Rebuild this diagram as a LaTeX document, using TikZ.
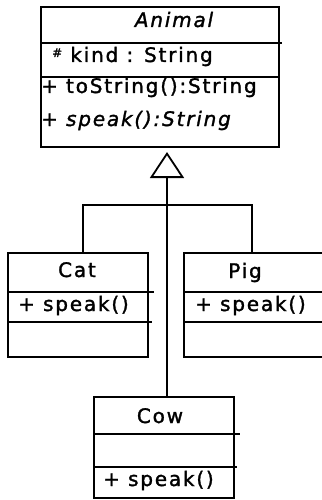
\documentclass[tikz,border=0pt]{standalone}
\usepackage{fontspec}
\setmainfont{DejaVu Sans}[LetterSpace=9, FakeBold=1.5]
\usetikzlibrary{positioning,arrows.meta}

\begin{document}
\begin{tikzpicture}[x=1pt, y=-1pt,
  part/.style={draw, line width=1.8pt, inner sep=0pt, outer sep=0pt,
               anchor=north west, minimum width=#1},
  part/.default=140pt,
  title/.style={font=\fontsize{20}{24}\selectfont, inner sep=0pt, anchor=base},
  member/.style={font=\fontsize{20}{24}\selectfont, inner sep=0pt, anchor=base west},
  link/.style={line width=1.8pt},
  inherit/.style={-{Triangle[open, length=26pt, width=34pt, line width=1.8pt]},
                  line width=1.8pt, shorten >=5pt}
]
\useasboundingbox (0,0) rectangle (321,500);
% Animal
\node[part=238pt, minimum height=36pt] (AnName) at (41,7) {};
\node[part=238pt, minimum height=34pt] (AnAttr) at (41,43) {};
\node[part=238pt, minimum height=70pt] (AnOps)  at (41,77) {};
\node[title, font=\fontsize{20}{24}\selectfont\itshape] (AnT) at (174,27) {Animal};
\node[member] (AnKind) at (52,62) {\raisebox{5pt}{\fontsize{12}{12}\selectfont\#} kind : String};
\node[member] (AnToS)  at (41,93) {+ toString():String};
\node[member] (AnSpk)  at (41,126) {+ \textit{speak():String}};
\draw[link] (AnName.south east) -- ++(3,0);
% Cat
\node[part, minimum height=39pt] (CatName) at (8,253) {};
\node[part, minimum height=30pt] (CatOps)  at (8,292) {};
\node[part, minimum height=35pt] (CatAttr) at (8,322) {};
\node[title]  (CatT)   at (77,277) {Cat};
\node[member] (CatSpk) at (18,311) {+ speak()};
\draw[link] (CatName.south east) -- ++(6,0);
\draw[link] (CatOps.south east) -- ++(4,0);
% Pig
\node[part, minimum height=39pt] (PigName) at (184,253) {};
\node[part, minimum height=30pt] (PigOps)  at (184,292) {};
\node[part, minimum height=35pt] (PigAttr) at (184,322) {};
\node[title]  (PigT)   at (245,278) {Pig};
\node[member] (PigSpk) at (195,311) {+ speak()};
% Cow
\node[part, minimum height=37pt] (CowName) at (94,397) {};
\node[part, minimum height=33pt] (CowAttr) at (94,434) {};
\node[part, minimum height=31pt] (CowOps)  at (94,467) {};
\node[title]  (CowT)   at (160,423) {Cow};
\node[member] (CowSpk) at (103,486) {+ speak()};
\draw[link] (CowName.south east) -- ++(6,0);
\draw[link] (CowAttr.south east) -- ++(3,0);
% inheritance
\coordinate (J)    at (167,205);
\coordinate (CatJ) at (83,205);
\coordinate (PigJ) at (252,205);
\draw[inherit] (CowName.north -| J) -- (AnOps.south -| J);
\draw[link] (CatName.north -| CatJ) -- (CatJ) -- (PigJ) -- (PigName.north -| PigJ);
\end{tikzpicture}
\end{document}
